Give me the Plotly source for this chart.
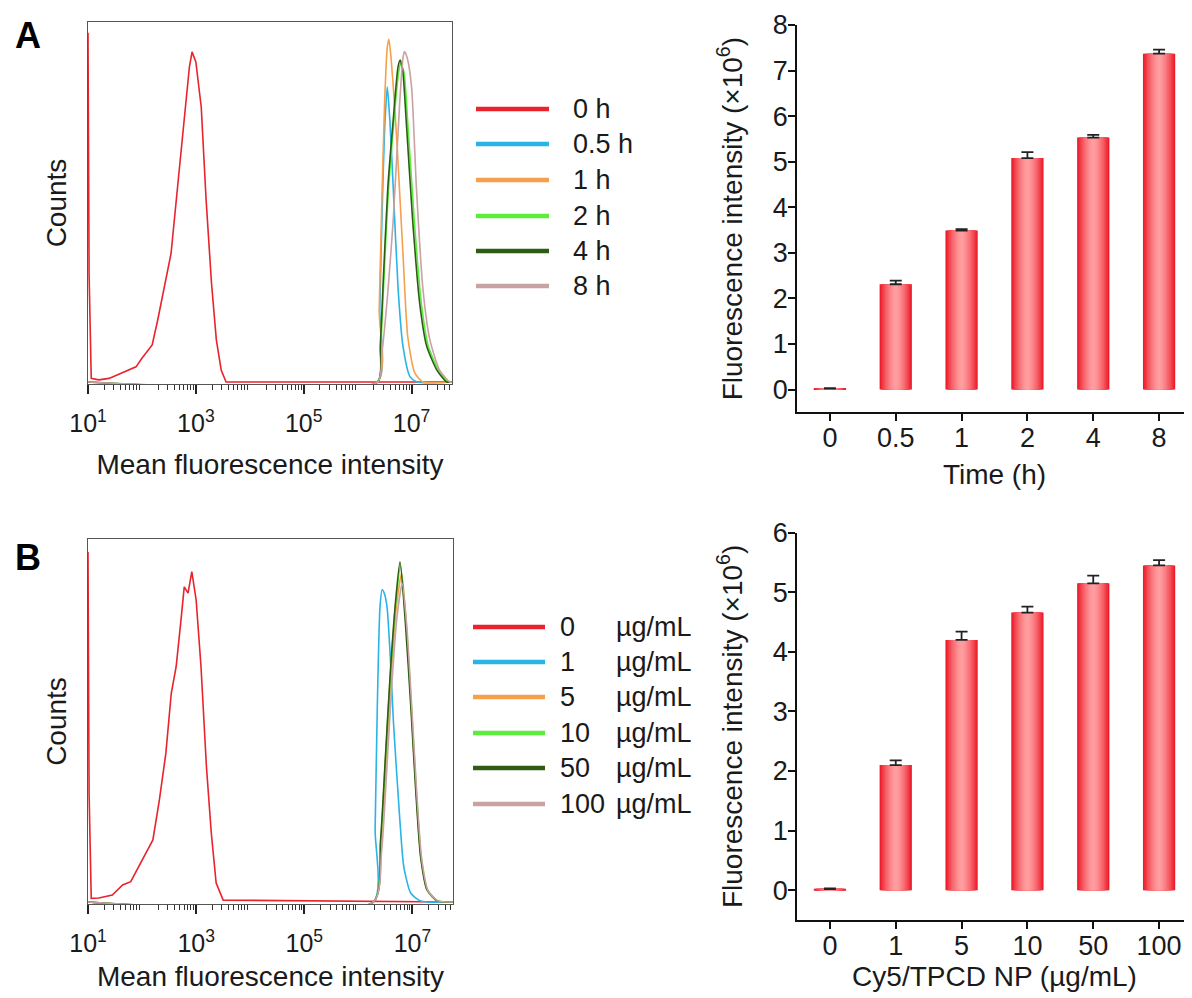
import plotly.graph_objects as go

# page has an 8px body margin; figure sized so its right edge meets the window edge
OFF = 8
W, H = 1192 - OFF, 998 - OFF
FONT = "Arial, Liberation Sans, sans-serif"
INK = "#1a1a1a"

# ---------------- data ----------------
# Panel A histogram (log10 intensity, relative counts)
hist_a_names = ["0 h", "0.5 h", "1 h", "2 h", "4 h", "8 h"]
hist_colors = ["#e8232b", "#2ab4e6", "#f4a04c", "#5ced3c", "#2f5c14", "#c9a2a2"]

a_0h_log = [1.0, 1.02, 1.06, 1.2, 1.39, 1.63, 1.89, 2.0, 2.19, 2.29, 2.41, 2.54, 2.65, 2.78, 2.88, 2.93,
            3.0, 3.1, 3.19, 3.29, 3.38, 3.47, 3.56, 7.75]
a_0h_cnt = [0.97, 0.3, 0.01, 0.006, 0.01, 0.025, 0.042, 0.066, 0.103, 0.17, 0.255, 0.357, 0.525, 0.728, 0.875,
            0.917, 0.889, 0.764, 0.506, 0.275, 0.117, 0.033, 0.0, 0.0]
a_05h_log = [1.0, 6.37, 6.41, 6.45, 6.50, 6.55, 6.60, 6.66, 6.75, 6.84, 6.97, 7.10, 7.75]
a_05h_cnt = [0, 0, 0.2, 0.45, 0.7, 0.82, 0.72, 0.54, 0.26, 0.10, 0.015, 0, 0]
a_1h_log = [1.0, 6.37, 6.40, 6.44, 6.50, 6.55, 6.58, 6.62, 6.68, 6.74, 6.84, 6.93, 7.06, 7.21, 7.75]
a_1h_cnt = [0, 0, 0.2, 0.45, 0.775, 0.93, 0.952, 0.90, 0.78, 0.636, 0.358, 0.125, 0.025, 0, 0]
a_2h_log = [1.0, 6.37, 6.43, 6.48, 6.57, 6.67, 6.76, 6.80, 6.86, 6.93, 7.05, 7.18, 7.31, 7.50, 7.68, 7.75]
a_2h_cnt = [0, 0, 0.1, 0.26, 0.53, 0.72, 0.86, 0.885, 0.86, 0.72, 0.45, 0.22, 0.10, 0.033, 0, 0]
a_4h_log = [1.0, 6.37, 6.42, 6.47, 6.56, 6.66, 6.75, 6.79, 6.84, 6.90, 7.02, 7.15, 7.28, 7.47, 7.65, 7.75]
a_4h_cnt = [0, 0, 0.1, 0.264, 0.54, 0.728, 0.876, 0.894, 0.86, 0.728, 0.45, 0.22, 0.10, 0.033, 0, 0]
a_8h_log = [1.0, 6.37, 6.45, 6.56, 6.66, 6.78, 6.84, 6.87, 6.92, 7.0, 7.09, 7.21, 7.34, 7.52, 7.71, 7.75]
a_8h_cnt = [0, 0, 0.08, 0.25, 0.45, 0.775, 0.9, 0.918, 0.9, 0.82, 0.54, 0.26, 0.117, 0.033, 0, 0]

# Panel B histogram
hist_b_nums = ["0", "1", "5", "10", "50", "100"]
hist_b_unit = "µg/mL"
b_0_log = [1.0, 1.02, 1.06, 1.2, 1.45, 1.64, 1.79, 2.01, 2.2, 2.32, 2.44, 2.54, 2.63, 2.72, 2.78, 2.85, 2.92,
           3.0, 3.09, 3.19, 3.28, 3.37, 3.5, 7.75]
b_0_cnt = [0.964, 0.3, 0.01, 0.011, 0.019, 0.047, 0.056, 0.116, 0.171, 0.281, 0.41, 0.575, 0.648, 0.777, 0.868,
           0.851, 0.91, 0.832, 0.648, 0.373, 0.19, 0.052, 0.005, 0.0]
b_1_log = [1.0, 6.28, 6.31, 6.35, 6.40, 6.44, 6.48, 6.53, 6.59, 6.65, 6.75, 6.84, 6.97, 7.15, 7.75]
b_1_cnt = [0, 0, 0.2, 0.538, 0.813, 0.86, 0.85, 0.813, 0.676, 0.492, 0.263, 0.097, 0.024, 0.003, 0]
b_5_log = [1.0, 6.28, 6.42, 6.51, 6.60, 6.70, 6.80, 6.89, 6.98, 7.07, 7.16, 7.28, 7.46, 7.75]
b_5_cnt = [0, 0, 0.16, 0.38, 0.61, 0.81, 0.905, 0.76, 0.53, 0.30, 0.12, 0.03, 0.003, 0]
b_10_log = [1.0, 6.28, 6.41, 6.50, 6.59, 6.69, 6.78, 6.88, 6.98, 7.07, 7.16, 7.28, 7.47, 7.75]
b_10_cnt = [0, 0, 0.16, 0.39, 0.62, 0.82, 0.925, 0.77, 0.54, 0.31, 0.125, 0.033, 0.003, 0]
b_50_log = [1.0, 6.28, 6.41, 6.50, 6.59, 6.69, 6.77, 6.87, 6.97, 7.06, 7.15, 7.27, 7.46, 7.75]
b_50_cnt = [0, 0, 0.17, 0.4, 0.63, 0.832, 0.937, 0.768, 0.538, 0.309, 0.125, 0.033, 0.003, 0]
b_100_log = [1.0, 6.28, 6.43, 6.52, 6.61, 6.71, 6.81, 6.90, 6.99, 7.08, 7.17, 7.29, 7.47, 7.75]
b_100_cnt = [0, 0, 0.14, 0.35, 0.58, 0.78, 0.878, 0.75, 0.53, 0.30, 0.12, 0.03, 0.003, 0]

# Bar charts (x10^6)
time_cats = ["0", "0.5", "1", "2", "4", "8"]
time_vals = [0.02, 2.31, 3.49, 5.08, 5.53, 7.37]
time_err = [0.01, 0.08, 0.03, 0.13, 0.06, 0.09]
conc_cats = ["0", "1", "5", "10", "50", "100"]
conc_vals = [0.02, 2.10, 4.20, 4.66, 5.15, 5.45]
conc_err = [0.01, 0.08, 0.14, 0.10, 0.13, 0.09]

# ---------------- helpers (window pixels -> paper) ----------------
def px_x(x):
    return (x - OFF) / W

def px_y(y):
    return 1 - (y - OFF) / H

fig = go.Figure()

hist_a = [(a_0h_log, a_0h_cnt), (a_05h_log, a_05h_cnt), (a_1h_log, a_1h_cnt),
          (a_2h_log, a_2h_cnt), (a_4h_log, a_4h_cnt), (a_8h_log, a_8h_cnt)]
hist_b = [(b_0_log, b_0_cnt), (b_1_log, b_1_cnt), (b_5_log, b_5_cnt),
          (b_10_log, b_10_cnt), (b_50_log, b_50_cnt), (b_100_log, b_100_cnt)]

for i, (lg, ct) in enumerate(hist_a):
    fig.add_trace(go.Scatter(x=[10 ** v for v in lg], y=ct, mode="lines",
                             line=dict(color=hist_colors[i], width=1.6,
                                       shape="linear" if i == 0 else "spline", smoothing=0.6),
                             xaxis="x", yaxis="y", showlegend=False, name=hist_a_names[i]))
for i, (lg, ct) in enumerate(hist_b):
    fig.add_trace(go.Scatter(x=[10 ** v for v in lg], y=ct, mode="lines",
                             line=dict(color=hist_colors[i], width=1.6,
                                       shape="linear" if i == 0 else "spline", smoothing=0.6),
                             xaxis="x2", yaxis="y2", showlegend=False, name=hist_b_nums[i]))

# gradient bars via overlaid layers
EDGE = (236, 28, 42)
CENTER = (255, 160, 162)
NL = 12
BW = 0.49

def layer_color(t):
    f = t ** 1.6
    c = [round(CENTER[k] + (EDGE[k] - CENTER[k]) * f) for k in range(3)]
    return f"rgb({c[0]},{c[1]},{c[2]})"

for cats, vals, errs, xa, ya in [(time_cats, time_vals, time_err, "x3", "y3"),
                                 (conc_cats, conc_vals, conc_err, "x4", "y4")]:
    for j in range(NL):
        t = 1 - j / NL
        last = j == NL - 1
        fig.add_trace(go.Bar(
            x=cats, y=vals, width=BW * t,
            marker=dict(color=layer_color(t), line=dict(width=0)),
            xaxis=xa, yaxis=ya, showlegend=False, hoverinfo="skip" if not last else None,
            error_y=dict(type="data", symmetric=False, array=errs, arrayminus=[0] * len(errs),
                         color="#222222", thickness=1.8, width=6, visible=last),
        ))

# ---------------- axes ----------------
label_decades = [1, 3, 5, 7]
plain_decades = [2, 4, 6]
label_vals = [10 ** d for d in label_decades]
label_text = [f"10<sup>{d}</sup>" for d in label_decades]
plain_vals = [10 ** d for d in plain_decades]
minor_vals = [k * 10 ** d for d in range(1, 8) for k in range(2, 10) if k * 10 ** d < 10 ** 7.75]
XR = [1, 7.75]

def hist_x(domain, standoff):
    return dict(type="log", range=XR, domain=domain, showline=True, mirror=True,
                automargin=False,
                linecolor="#555555", linewidth=1.3, ticks="outside", tickvals=label_vals,
                ticktext=label_text, ticklen=9, tickwidth=1.6, tickcolor="#222222",
                ticklabelstandoff=8,
                minor=dict(tickvals=minor_vals, ticks="outside", ticklen=5, tickwidth=1,
                           tickcolor="#333333", showgrid=False),
                showgrid=False, zeroline=False, tickfont=dict(size=25, color=INK, family=FONT),
                title=dict(text="Mean fluorescence intensity", font=dict(size=28, color=INK, family=FONT),
                           standoff=standoff))

def hist_x_even(overlay, anchor):
    # long ticks at the unlabeled decades
    return dict(type="log", range=XR, overlaying=overlay, anchor=anchor, showline=False,
                automargin=False, ticks="outside", tickvals=plain_vals, showticklabels=False,
                ticklen=9, tickwidth=1.6, tickcolor="#222222", showgrid=False, zeroline=False)

def hist_y(domain):
    return dict(range=[-0.0056, 1.0], domain=domain, showline=True, mirror=True,
                automargin=False,
                linecolor="#555555", linewidth=1.3, ticks="", showticklabels=False,
                showgrid=False, zeroline=False,
                title=dict(text="Counts", font=dict(size=28, color=INK, family=FONT), standoff=12))

def bar_x(domain, anchor, title, cats, standoff):
    return dict(type="category", categoryorder="array", categoryarray=cats, range=[-0.5, 5.5],
                domain=domain, anchor=anchor, showline=True, linecolor="#111111", linewidth=1.5,
                automargin=False, ticklabelstandoff=-6,
                ticks="outside", ticklen=7, tickwidth=1.5, tickcolor="#111111", showgrid=False,
                zeroline=False, tickfont=dict(size=27, color=INK, family=FONT),
                title=dict(text=title, font=dict(size=28, color=INK, family=FONT), standoff=standoff))

def bar_y(domain, anchor, rng):
    return dict(range=rng, domain=domain, anchor=anchor, dtick=1, tick0=0, showline=True,
                automargin=False, ticklabelstandoff=-5,
                linecolor="#111111", linewidth=1.5, ticks="outside", ticklen=7, tickwidth=1.5,
                tickcolor="#111111", showgrid=False, zeroline=False,
                tickfont=dict(size=27, color=INK, family=FONT),
                title=dict(text="Fluorescence intensity (×10<sup>6</sup>)",
                           font=dict(size=28, color=INK, family=FONT), standoff=22))

fig.update_layout(
    width=W, height=H, margin=dict(l=0, r=0, t=0, b=0, autoexpand=False),
    paper_bgcolor="white", plot_bgcolor="white", font=dict(family=FONT, color=INK),
    barmode="overlay", showlegend=False,
    xaxis=dict(**hist_x([px_x(88), px_x(452)], 18), anchor="y"),
    yaxis=dict(**hist_y([px_y(384), px_y(22)]), anchor="x"),
    xaxis2=dict(**hist_x([px_x(88), px_x(453)], 10), anchor="y2"),
    yaxis2=dict(**hist_y([px_y(904), px_y(539)]), anchor="x2"),
    xaxis3=bar_x([px_x(797), 1.0], "y3", "Time (h)", time_cats, 12),
    yaxis3=bar_y([px_y(412.3), px_y(25)], "x3", [-0.5, 8]),
    xaxis4=bar_x([px_x(797), 1.0], "y4", "Cy5/TPCD NP (µg/mL)", conc_cats, 4),
    yaxis4=bar_y([px_y(920), px_y(532.7)], "x4", [-0.5, 6]),
    xaxis5=hist_x_even("x", "y"),
    xaxis6=hist_x_even("x2", "y2"),
)

# ---------------- legends (drawn) ----------------
shapes = []
annots = []
LEG_FONT = dict(size=27, color=INK, family=FONT)
rows_a = [109, 144, 180, 216, 251, 286]
for i, name in enumerate(hist_a_names):
    shapes.append(dict(type="line", xref="paper", yref="paper", x0=px_x(476), x1=px_x(549),
                       y0=px_y(rows_a[i]), y1=px_y(rows_a[i]), line=dict(color=hist_colors[i], width=4.5)))
    annots.append(dict(text=name, xref="paper", yref="paper", x=px_x(571), y=px_y(rows_a[i]),
                       xanchor="left", yanchor="middle", showarrow=False, font=LEG_FONT))
rows_b = [627, 662, 697, 733, 768, 804]
for i, num in enumerate(hist_b_nums):
    shapes.append(dict(type="line", xref="paper", yref="paper", x0=px_x(473), x1=px_x(545),
                       y0=px_y(rows_b[i]), y1=px_y(rows_b[i]), line=dict(color=hist_colors[i], width=4.5)))
    annots.append(dict(text=num, xref="paper", yref="paper", x=px_x(558), y=px_y(rows_b[i]),
                       xanchor="left", yanchor="middle", showarrow=False, font=LEG_FONT))
    annots.append(dict(text=hist_b_unit, xref="paper", yref="paper", x=px_x(614), y=px_y(rows_b[i]),
                       xanchor="left", yanchor="middle", showarrow=False, font=LEG_FONT))

for letter, yy in [("A", 36), ("B", 557)]:
    annots.append(dict(text=f"<b>{letter}</b>", xref="paper", yref="paper", x=px_x(28), y=px_y(yy),
                       xanchor="center", yanchor="middle", showarrow=False,
                       font=dict(size=36, color="#000000", family=FONT)))

fig.update_layout(shapes=shapes, annotations=annots)
fig.write_html("out.html")
